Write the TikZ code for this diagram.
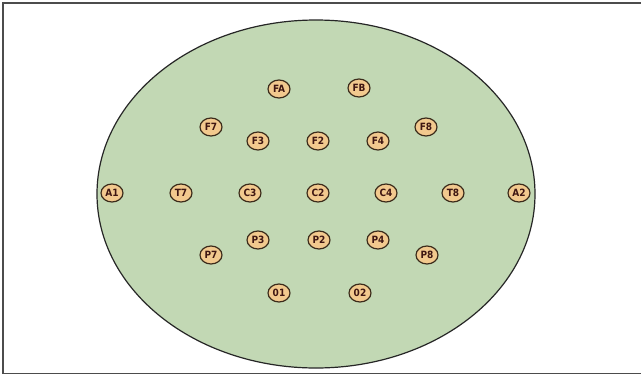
\documentclass[tikz,border=0pt]{standalone}
\usepackage{fontspec}
\newfontfamily\elfont{DejaVu Sans Condensed}
\usetikzlibrary{shapes.geometric}
\definecolor{scalp}{HTML}{C2D8B4}
\definecolor{padfill}{HTML}{F2C98E}
\definecolor{padline}{HTML}{3A2A1A}
\definecolor{padtext}{HTML}{3E1612}
\tikzset{
  electrode/.style={ellipse, draw=padline, line width=1.2pt, fill=padfill,
    minimum width=22pt, minimum height=18pt, inner sep=0pt,
    font=\elfont\bfseries\fontsize{10}{10}\selectfont, text=padtext}
}
\begin{document}
\begin{tikzpicture}[x=1pt,y=-1pt]
\useasboundingbox (0,0) rectangle (641,376);
\fill[white] (0,0) rectangle (641,376);
\draw[black!70, line width=1.2pt] (641,3) -- (3,3) -- (3,373.5) -- (641,373.5);
\node[ellipse, draw=black!85, line width=1.2pt, fill=scalp,
  minimum width=438pt, minimum height=348pt, inner sep=0pt] (head) at (316,194) {};
\node[electrode] (FA) at (279,89) {FA};
\node[electrode] (FB) at (359,88) {FB};
\node[electrode] (F7) at (211,127) {F7};
\node[electrode] (F8) at (426,127) {F8};
\node[electrode] (F3) at (258,141) {F3};
\node[electrode] (F2) at (318,141) {F2};
\node[electrode] (F4) at (378,141) {F4};
\node[electrode] (A1) at (112,193) {A1};
\node[electrode] (T7) at (181,193) {T7};
\node[electrode] (C3) at (250,193) {C3};
\node[electrode] (C2) at (318,193) {C2};
\node[electrode] (C4) at (386,193) {C4};
\node[electrode] (T8) at (453,193) {T8};
\node[electrode] (A2) at (519,193) {A2};
\node[electrode] (P3) at (258,240) {P3};
\node[electrode] (P2) at (319,240) {P2};
\node[electrode] (P4) at (378,240) {P4};
\node[electrode] (P7) at (211,255) {P7};
\node[electrode] (P8) at (427,255) {P8};
\node[electrode] (O1) at (279,293) {01};
\node[electrode] (O2) at (360,293) {02};
\end{tikzpicture}
\end{document}
